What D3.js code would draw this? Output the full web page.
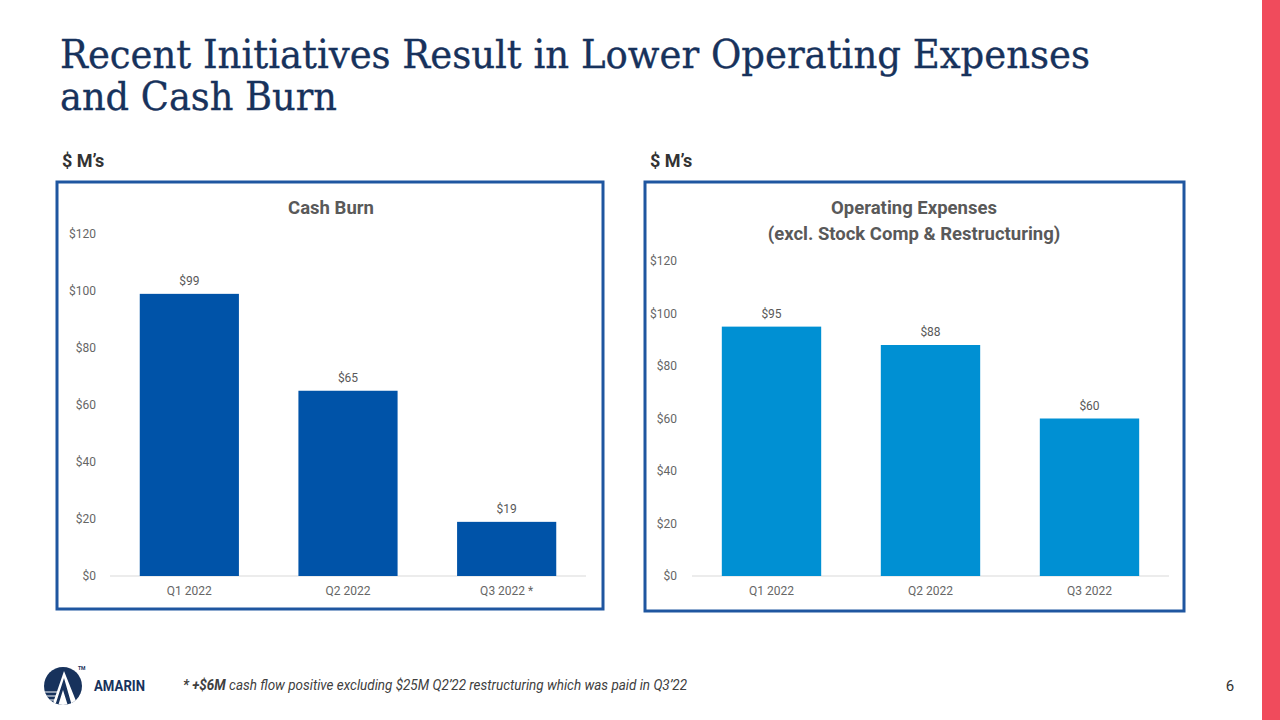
<!DOCTYPE html>
<html><head><meta charset="utf-8">
<script src="https://cdn.jsdelivr.net/npm/d3@7"></script>
<style>
html,body{margin:0;padding:0;background:#fff;}
svg{display:block;}
</style></head>
<body>
<svg id="c" width="1280" height="720"></svg>
<script>
const categoriesLeft = ["Q1 2022", "Q2 2022", "Q3 2022 *"];
const cashBurn = [99, 65, 19];
const categoriesRight = ["Q1 2022", "Q2 2022", "Q3 2022"];
const opex = [95, 88, 60];
const yTicks = [0, 20, 40, 60, 80, 100, 120];

const svg = d3.select("#c");
const sans = "Roboto, 'Noto Sans', sans-serif";
const serif = "'DejaVu Serif', 'Liberation Serif', serif";

// Title
const title = svg.append("text")
  .attr("font-family", serif).attr("font-size", 40).attr("fill", "#17325c")
  .attr("stroke", "#17325c").attr("stroke-width", 0.35);
title.append("tspan").attr("x", 60).attr("y", 68).text("Recent Initiatives Result in Lower Operating Expenses")
  .attr("textLength", 1030).attr("lengthAdjust", "spacingAndGlyphs");
title.append("tspan").attr("x", 60).attr("y", 110).text("and Cash Burn")
  .attr("textLength", 277).attr("lengthAdjust", "spacingAndGlyphs");

// Right red bar
svg.append("rect").attr("x", 1262).attr("y", 0).attr("width", 18).attr("height", 720).attr("fill", "#f04b5c");

function panel(opts) {
  const g = svg.append("g");
  g.append("text").attr("x", opts.unitX).attr("y", 167).attr("font-family", sans)
    .attr("font-weight", 700).attr("font-size", 18).attr("fill", "#333").text("$ M\u2019s");
  g.append("rect").attr("x", opts.box[0]).attr("y", opts.box[1]).attr("width", opts.box[2]).attr("height", opts.box[3])
    .attr("fill", "none").attr("stroke", "#1f56a0").attr("stroke-width", 3);
  opts.titles.forEach((t, i) => {
    g.append("text").attr("x", opts.titleX).attr("y", 214 + i * 26).attr("text-anchor", "middle")
      .attr("font-family", sans).attr("font-weight", 700).attr("font-size", 18.5).attr("fill", "#595959").text(t);
  });
  const x = d3.scaleBand().domain(opts.cats).range(opts.xr).paddingInner(0.375).paddingOuter(0.1875);
  const y = d3.scaleLinear().domain([0, 120]).range(opts.yr);
  const ya = d3.axisLeft(y).tickValues(yTicks).tickFormat(d => "$" + d).tickSize(0).tickPadding(0);
  const yg = g.append("g").attr("transform", `translate(${opts.yLabelX},0)`).call(ya);
  yg.select(".domain").remove();
  yg.selectAll("text").attr("font-family", sans).attr("font-size", 12).attr("fill", "#666");
  g.append("line").attr("x1", opts.xr[0]).attr("x2", opts.xr[1]).attr("y1", y(0)).attr("y2", y(0))
    .attr("stroke", "#d9d9d9").attr("stroke-width", 1);
  g.selectAll("rect.bar").data(opts.vals).join("rect").attr("class", "bar")
    .attr("x", (d, i) => x(opts.cats[i])).attr("width", x.bandwidth())
    .attr("y", d => y(d)).attr("height", d => y(0) - y(d)).attr("fill", opts.color);
  g.selectAll("text.val").data(opts.vals).join("text").attr("class", "val")
    .attr("x", (d, i) => x(opts.cats[i]) + x.bandwidth() / 2).attr("y", d => y(d) - 9)
    .attr("text-anchor", "middle").attr("font-family", sans).attr("font-size", 12).attr("fill", "#595959")
    .text(d => "$" + d);
  const xa = d3.axisBottom(x).tickSize(0).tickPadding(0);
  const xg = g.append("g").attr("transform", `translate(0,${y(0) + 10})`).call(xa);
  xg.select(".domain").remove();
  xg.selectAll("text").attr("font-family", sans).attr("font-size", 12).attr("fill", "#666").attr("dy", "0.71em");
}

panel({
  unitX: 62, box: [57, 182, 546, 427], titles: ["Cash Burn"], titleX: 331,
  cats: categoriesLeft, vals: cashBurn, xr: [110, 586], yr: [576, 234], yLabelX: 96, color: "#0053a8"
});
panel({
  unitX: 650, box: [645, 182, 539, 429], titles: ["Operating Expenses", "(excl. Stock Comp & Restructuring)"], titleX: 914,
  cats: categoriesRight, vals: opex, xr: [692, 1169], yr: [576, 261], yLabelX: 677, color: "#0090d3"
});

// Footer logo
const navy = "#17325c";
const logo = svg.append("g");
logo.append("defs").append("clipPath").attr("id", "lc").append("circle").attr("cx", 63).attr("cy", 686).attr("r", 19);
logo.append("circle").attr("cx", 63).attr("cy", 686).attr("r", 19).attr("fill", navy);
const inner = logo.append("g").attr("clip-path", "url(#lc)");
[692, 696, 700].forEach(yy => inner.append("line").attr("x1", 44).attr("x2", 60).attr("y1", yy).attr("y2", yy)
  .attr("stroke", "#fff").attr("stroke-width", 1.2));
inner.append("path").attr("d", "M64,671 L78,706 L52,706 Z").attr("fill", "#fff");
inner.append("path").attr("d", "M64,678 L72,706 L68,706 L63,690 L58,706 L55,706 Z").attr("fill", navy);
logo.append("text").attr("x", 78).attr("y", 670).attr("font-family", sans).attr("font-weight", 700)
  .attr("font-size", 5).attr("fill", navy).text("TM");
svg.append("text").attr("x", 94).attr("y", 691).attr("font-family", sans).attr("font-weight", 700)
  .attr("font-size", 14).attr("fill", navy).attr("textLength", 51).attr("lengthAdjust", "spacingAndGlyphs").text("AMARIN");

// Footnote
const fn = svg.append("text").attr("x", 183).attr("y", 690).attr("font-family", sans).attr("font-style", "italic")
  .attr("font-size", 14).attr("fill", "#404040").attr("textLength", 504).attr("lengthAdjust", "spacingAndGlyphs");
fn.append("tspan").attr("font-weight", 700).text("* +$6M");
fn.append("tspan").text(" cash flow positive excluding $25M Q2\u201922 restructuring which was paid in Q3\u201922");

svg.append("text").attr("x", 1230).attr("y", 691).attr("text-anchor", "middle").attr("font-family", sans)
  .attr("font-size", 15).attr("fill", "#333").text("6");
</script>
</body></html>
